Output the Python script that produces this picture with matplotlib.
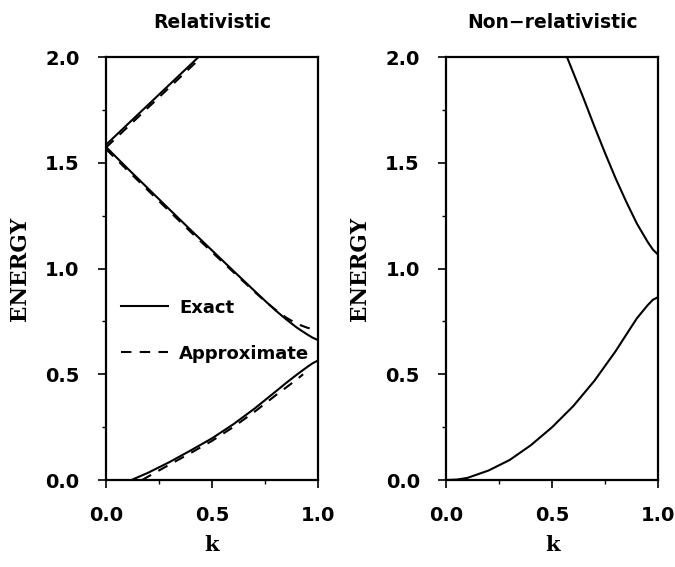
import numpy as np
import matplotlib
matplotlib.use("Agg")
import matplotlib.pyplot as plt
from matplotlib.ticker import MultipleLocator

# relativistic panel, exact (solid) and approximate (dashed) bands
rel_up_k = [0.0, 0.1, 0.2, 0.3, 0.4, 0.45]
rel_up_exact = [1.585, 1.68, 1.775, 1.87, 1.965, 2.013]
rel_up_k_ap = [0.0, 0.1, 0.2, 0.3, 0.4, 0.47]
rel_up_approx = [1.572, 1.667, 1.762, 1.857, 1.952, 2.018]

rel_mid_k = [0.0, 0.1, 0.2, 0.3, 0.4, 0.5, 0.6, 0.7, 0.75, 0.8, 0.85, 0.9, 0.95, 0.975, 1.0]
rel_mid_exact = [1.575, 1.475, 1.377, 1.279, 1.182, 1.086, 0.99, 0.895, 0.848, 0.802, 0.76, 0.721, 0.688, 0.673, 0.662]
rel_mid_approx = [1.565, 1.466, 1.368, 1.27, 1.173, 1.078, 0.984, 0.891, 0.846, 0.805, 0.768, 0.739, 0.72, 0.714, 0.711]

rel_low_k = [0.12, 0.2, 0.25, 0.3, 0.4, 0.5, 0.6, 0.7, 0.8, 0.85, 0.9, 0.95, 0.975, 1.0]
rel_low_exact = [0.0, 0.035, 0.06, 0.085, 0.14, 0.197, 0.263, 0.337, 0.418, 0.459, 0.498, 0.535, 0.552, 0.565]
rel_low_k_ap = [0.17, 0.25, 0.3, 0.4, 0.5, 0.6, 0.7, 0.8, 0.9, 0.93]
rel_low_approx = [0.0, 0.045, 0.073, 0.128, 0.185, 0.25, 0.322, 0.40, 0.475, 0.50]

# non-relativistic panel
nr_up_k = [0.57, 0.65, 0.7, 0.75, 0.8, 0.85, 0.9, 0.95, 0.975, 1.0]
nr_up = [2.0, 1.80, 1.67, 1.545, 1.425, 1.315, 1.212, 1.127, 1.09, 1.065]
nr_low_k = [0.0, 0.05, 0.1, 0.2, 0.3, 0.4, 0.5, 0.6, 0.7, 0.8, 0.85, 0.9, 0.95, 0.975, 1.0]
nr_low = [0.0, 0.002, 0.01, 0.045, 0.095, 0.165, 0.25, 0.35, 0.47, 0.61, 0.688, 0.765, 0.826, 0.852, 0.865]

titles = ["Relativistic", "Non\u2212relativistic"]
legend_labels = ["Exact", "Approximate"]

lw = 1.5
dash = (0, (5, 4))

fig = plt.figure(figsize=(6.75, 5.67), dpi=100)
ax1 = fig.add_axes([0.157, 0.1534, 0.314, 0.746])
ax2 = fig.add_axes([0.661, 0.1534, 0.314, 0.746])

ax1.plot(rel_up_k, rel_up_exact, color="black", lw=lw, label=legend_labels[0])
ax1.plot(rel_up_k_ap, rel_up_approx, color="black", lw=lw, linestyle=dash, label=legend_labels[1])
ax1.plot(rel_mid_k, rel_mid_exact, color="black", lw=lw)
ax1.plot(rel_mid_k, rel_mid_approx, color="black", lw=lw, linestyle=dash)
ax1.plot(rel_low_k, rel_low_exact, color="black", lw=lw)
ax1.plot(rel_low_k_ap, rel_low_approx, color="black", lw=lw, linestyle=dash)

ax2.plot(nr_up_k, nr_up, color="black", lw=lw)
ax2.plot(nr_low_k, nr_low, color="black", lw=lw)

leg = ax1.legend(loc="upper left", bbox_to_anchor=(0.03, 0.45), frameon=False,
                 handlelength=2.6, handletextpad=0.6, labelspacing=1.55,
                 borderpad=0, prop={"weight": "bold", "size": 13})

for ax, title in zip([ax1, ax2], titles):
    ax.set_xlim(0, 1)
    ax.set_ylim(0, 2)
    ax.xaxis.set_major_locator(MultipleLocator(0.5))
    ax.xaxis.set_minor_locator(MultipleLocator(0.25))
    ax.yaxis.set_major_locator(MultipleLocator(0.5))
    ax.yaxis.set_minor_locator(MultipleLocator(0.25))
    ax.tick_params(which="major", direction="out", length=6, width=1.2, pad=13, labelsize=14)
    ax.tick_params(which="minor", direction="out", length=3, width=1.0)
    for lab in ax.get_xticklabels() + ax.get_yticklabels():
        lab.set_fontweight("bold")
    for sp in ax.spines.values():
        sp.set_linewidth(1.6)
    ax.set_title(title, fontsize=13.5, fontweight="bold", pad=21)
    ax.set_xlabel("k", family="DejaVu Serif", fontsize=15, fontweight="bold", labelpad=7)
    ax.set_ylabel("ENERGY", family="DejaVu Serif", fontsize=15.5, fontweight="bold", labelpad=10)

fig.savefig("out.png", dpi=100)
